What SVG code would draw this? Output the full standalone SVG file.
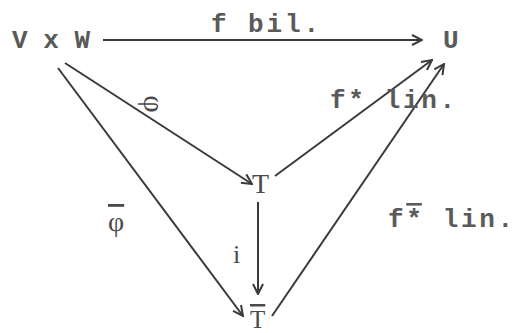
<svg xmlns="http://www.w3.org/2000/svg" width="519" height="333" viewBox="0 0 519 333">
<style>
.mono{font-family:"Liberation Mono","DejaVu Sans Mono",monospace;font-size:26px;font-weight:bold;fill:#5a5a5a}
.serif{font-family:"Liberation Serif","DejaVu Serif",serif;font-size:28px;fill:#4a4a4a}
.edge{stroke:#3a3a3a;stroke-width:2;fill:none}
.ov{text-decoration:overline}
</style>
<defs>
<marker id="arr" viewBox="0 0 12 12" refX="11" refY="6" markerWidth="12" markerHeight="12" markerUnits="userSpaceOnUse" orient="auto">
<path d="M1,1 L11,6 L1,11" fill="none" stroke="#3a3a3a" stroke-width="2"/>
</marker>
</defs>
<rect width="519" height="333" fill="#ffffff"/>
<g id="connectors">
<line class="edge" x1="103" y1="40" x2="422" y2="40" marker-end="url(#arr)"/>
<line class="edge" x1="65" y1="63" x2="252" y2="184" marker-end="url(#arr)"/>
<line class="edge" x1="58" y1="68" x2="243" y2="316" marker-end="url(#arr)"/>
<line class="edge" x1="258" y1="202" x2="258" y2="294" marker-end="url(#arr)"/>
<line class="edge" x1="275" y1="176" x2="432" y2="60" marker-end="url(#arr)"/>
<line class="edge" x1="272" y1="316" x2="444" y2="64" marker-end="url(#arr)"/>
</g>
<g id="node-VxW"><text class="mono" x="12" y="48">V x W</text></g>
<g id="node-U"><text class="mono" x="443" y="48">U</text></g>
<g id="node-T"><text class="serif" x="252" y="193">T</text></g>
<g id="node-Tbar"><text class="serif ov" x="250" y="328" style="font-size:25px">T</text></g>
<g id="labels">
<text class="mono" x="211" y="32" textLength="108">f bil.</text>
<text class="serif" x="154" y="104" transform="rotate(90 154 104)" text-anchor="middle" dominant-baseline="central" style="font-size:30px">φ</text>
<text class="serif" x="108" y="231" style="font-size:28px"><tspan class="ov">φ</tspan></text>
<text class="serif" x="233" y="263" style="font-size:26px">i</text>
<text class="mono" x="330" y="108" textLength="125">f* lin.</text>
<text class="mono" x="388" y="227" textLength="125">f<tspan class="ov">*</tspan> lin.</text>
</g>
</svg>
